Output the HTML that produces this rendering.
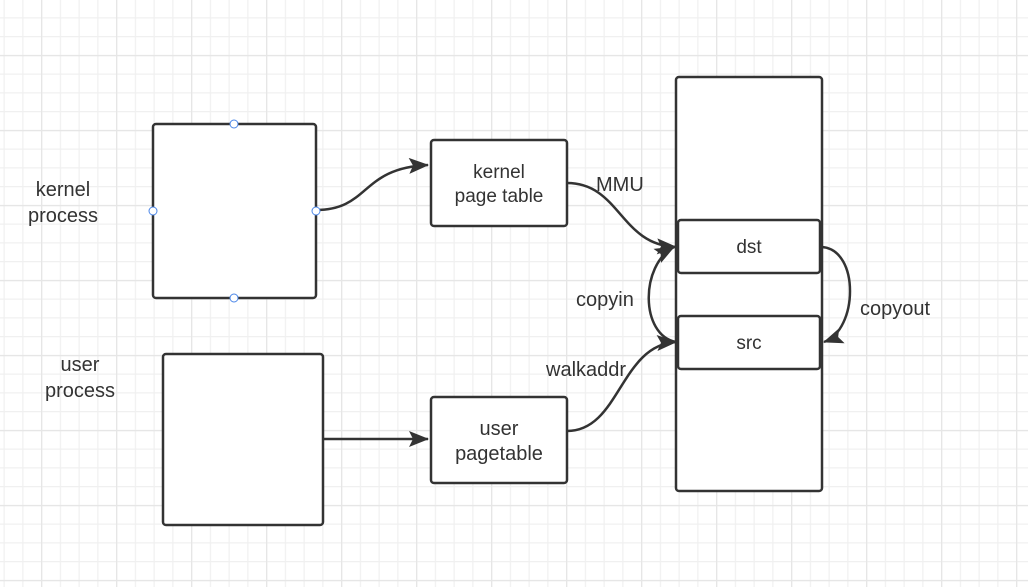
<!DOCTYPE html>
<html><head><style>
html,body{margin:0;padding:0;background:#fff;}
svg{display:block;}
text{font-family:"Liberation Sans","Noto Sans CJK SC",sans-serif;font-size:20px;fill:#333;}
</style></head><body>
<svg width="1028" height="587" viewBox="0 0 1028 587" xmlns="http://www.w3.org/2000/svg">
<defs>
<pattern id="minor" x="3.5" y="-1.5" width="18.75" height="18.75" patternUnits="userSpaceOnUse">
<path d="M0 0.5H18.75M0.5 0V18.75" stroke="#f0f0f0" stroke-width="1.5" fill="none"/>
</pattern>
<pattern id="major" x="41" y="55" width="75" height="75" patternUnits="userSpaceOnUse">
<path d="M0 0.5H75M0.5 0V75" stroke="#e6e6e6" stroke-width="1.5" fill="none"/>
</pattern>
<marker id="ar2" markerWidth="20" markerHeight="16" refX="19" refY="8" orient="auto" markerUnits="userSpaceOnUse" viewBox="0 0 20 16">
<path d="M0 0L20 8L0 16L4 8Z" fill="#333"/>
</marker>
</defs>
<rect width="1028" height="587" fill="url(#minor)"/>
<rect width="1028" height="587" fill="url(#major)"/>
<g fill="#fff" stroke="#333" stroke-width="2.5">
<rect x="153" y="124" width="163" height="174" rx="3"/>
<rect x="163" y="354" width="160" height="171" rx="3"/>
<rect x="431" y="140" width="136" height="86" rx="3"/>
<rect x="431" y="397" width="136" height="86" rx="3"/>
<rect x="676" y="77" width="146" height="414" rx="3"/>
<rect x="678" y="220" width="142" height="53" rx="3"/>
<rect x="678" y="316" width="142" height="53" rx="3"/>
</g>
<g fill="none" stroke="#333" stroke-width="2.5">
<path d="M316 210C370 210 360 168 428 165" marker-end="url(#ar2)"/>
<path d="M323 439H428" marker-end="url(#ar2)"/>
<path d="M567 183C620 183 620 245 676 247" marker-end="url(#ar2)"/>
<path d="M567 431C620 431 620 345 676 342" marker-end="url(#ar2)"/>
<path d="M676 342C640 335 640 265 674 247" marker-end="url(#ar2)"/>
<path d="M822 247C860 250 858 330 824 342" marker-end="url(#ar2)"/>
</g>
<g fill="#fff" stroke="#4a86e8" stroke-width="1">
<circle cx="234" cy="124" r="4"/><circle cx="234" cy="298" r="4"/>
<circle cx="153" cy="211" r="4"/><circle cx="316" cy="211" r="4"/>
</g>
<text x="63" y="196" text-anchor="middle">kernel</text>
<text x="63" y="222" text-anchor="middle">process</text>
<text x="80" y="371" text-anchor="middle">user</text>
<text x="80" y="397" text-anchor="middle">process</text>
<text x="499" y="178" text-anchor="middle" style="font-size:19px">kernel</text>
<text x="499" y="202" text-anchor="middle" style="font-size:19px">page table</text>
<text x="499" y="435" text-anchor="middle">user</text>
<text x="499" y="460" text-anchor="middle">pagetable</text>
<text x="749" y="253" text-anchor="middle" style="font-size:19px">dst</text>
<text x="749" y="349" text-anchor="middle" style="font-size:19px">src</text>
<text x="596" y="191">MMU</text>
<text x="576" y="306">copyin</text>
<text x="546" y="376">walkaddr</text>
<text x="860" y="315">copyout</text>
</svg>
</body></html>
